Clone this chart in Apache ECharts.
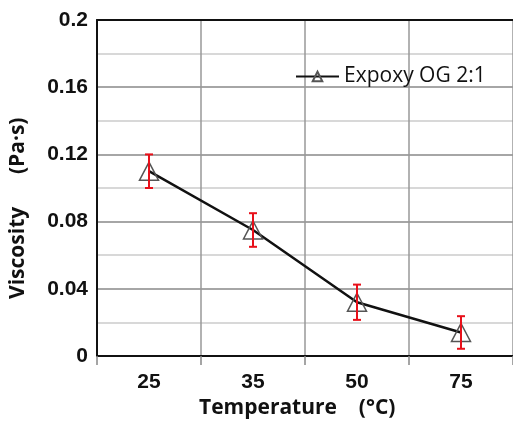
<!DOCTYPE html>
<html><head><meta charset="utf-8">
<script src="https://cdn.jsdelivr.net/npm/echarts@6/dist/echarts.min.js"></script>
<style>html,body{margin:0;padding:0;background:#fff}#c{width:513px;height:429px}</style>
</head><body><div id="c"></div>
<script>
const categories = ['25', '35', '50', '75'];
const viscosity = [0.110, 0.075, 0.032, 0.014];
const errors = [0.010, 0.010, 0.0105, 0.0097];
const seriesName = 'Expoxy OG 2:1';
const xTitle = 'Temperature    (°C)';
const yTitle = 'Viscosity      (Pa·s)';

const chart = echarts.init(document.getElementById('c'));
const errData = viscosity.map((v, i) => [i, v - errors[i], v + errors[i]]);
chart.setOption({
  animation: false,
  grid: { left: 97, top: 20, width: 420, height: 336 },
  legend: {
    data: [seriesName], left: 290, top: 61, itemWidth: 43, itemHeight: 12, itemGap: 5,
    textStyle: { fontFamily: 'Open Sans', fontSize: 21, color: '#111' }
  },
  xAxis: [{
    type: 'category', data: categories, boundaryGap: true,
    axisLine: { lineStyle: { color: '#111', width: 2 } },
    axisTick: { show: true, length: 9, lineStyle: { color: '#888', width: 1.5 } },
    axisLabel: { margin: 16, fontFamily: 'Liberation Sans', fontWeight: 'bold', fontSize: 21, color: '#111' },
    splitLine: { show: true, lineStyle: { color: '#999', width: 1.5 } }
  }, {
    type: 'category', data: categories, position: 'top',
    axisLine: { lineStyle: { color: '#111', width: 2 } },
    axisTick: { show: false }, axisLabel: { show: false }, splitLine: { show: false }
  }],
  yAxis: {
    type: 'value', min: 0, max: 0.2, interval: 0.04,
    axisLine: { show: true, lineStyle: { color: '#111', width: 2 } },
    axisTick: { show: false },
    axisLabel: { margin: 9, fontFamily: 'Liberation Sans', fontWeight: 'bold', fontSize: 21, color: '#111',
      formatter: v => (Math.round(v * 100) / 100).toString() },
    splitLine: { show: true, lineStyle: { color: '#888', width: 1.5 } },
    minorTick: { show: false, splitNumber: 2 },
    minorSplitLine: { show: true, lineStyle: { color: '#ccc', width: 1.5 } }
  },
  graphic: [
    { type: 'text', left: 199, top: 398, style: { text: xTitle, font: 'bold 21px "Open Sans"', fill: '#111' } },
    { type: 'text', x: 8, y: 299, rotation: Math.PI / 2, style: { text: yTitle, font: 'bold 21px "Open Sans"', fill: '#111' } }
  ],
  series: [{
    name: seriesName, type: 'line', data: viscosity,
    symbol: 'triangle', symbolSize: [19, 18],
    lineStyle: { color: '#111', width: 2.5 },
    itemStyle: { color: 'rgba(0,0,0,0)', borderColor: '#555', borderWidth: 1.5 },
    z: 3
  }, {
    type: 'custom', data: errData, z: 5,
    renderItem: (params, api) => {
      const x = api.value(0);
      const lo = api.coord([x, api.value(1)]);
      const hi = api.coord([x, api.value(2)]);
      const w = 4;
      const st = { stroke: '#e8101a', lineWidth: 2 };
      return { type: 'group', children: [
        { type: 'line', shape: { x1: lo[0], y1: lo[1], x2: hi[0], y2: hi[1] }, style: st },
        { type: 'line', shape: { x1: lo[0] - w, y1: lo[1], x2: lo[0] + w, y2: lo[1] }, style: st },
        { type: 'line', shape: { x1: hi[0] - w, y1: hi[1], x2: hi[0] + w, y2: hi[1] }, style: st }
      ]};
    }
  }]
});
</script></body></html>
